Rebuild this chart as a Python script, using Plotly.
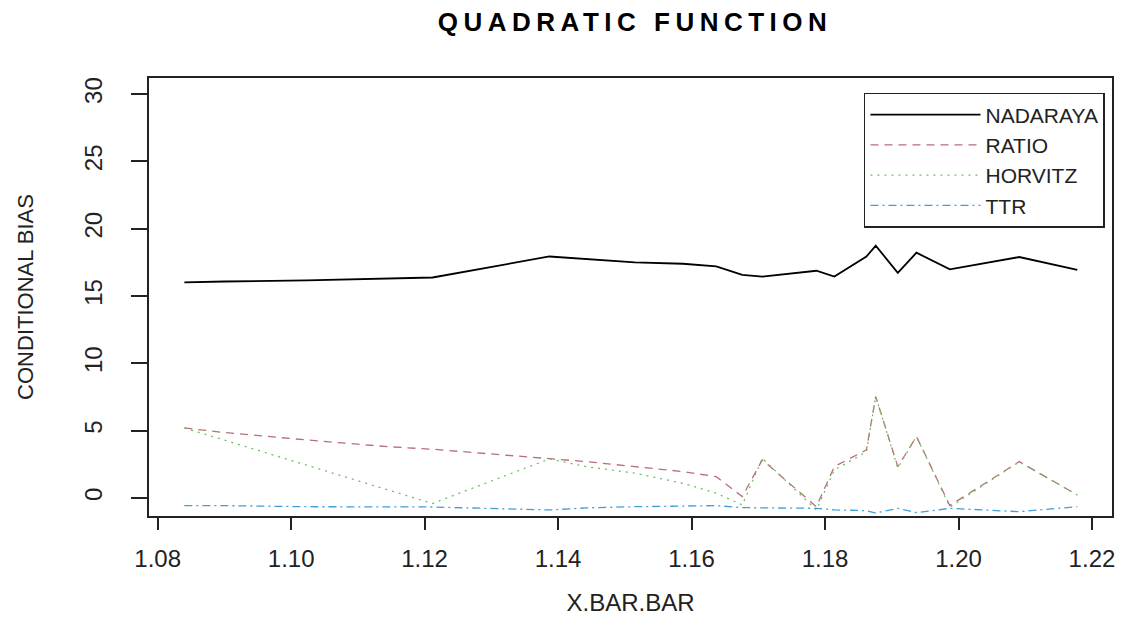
import plotly.graph_objects as go

x_bar = [1.0840, 1.0900, 1.1023, 1.1145, 1.1212, 1.1387, 1.1442, 1.1515, 1.1587, 1.1637,
         1.1676, 1.1706, 1.1787, 1.1814, 1.1862, 1.1876, 1.1909, 1.1937, 1.1987, 1.2091, 1.2178]

nadaraya = [16.01, 16.08, 16.16, 16.31, 16.38, 17.94, 17.75, 17.50, 17.40, 17.20,
            16.58, 16.45, 16.88, 16.45, 17.94, 18.74, 16.73, 18.22, 16.99, 17.90, 16.95]
ratio = [5.20, 4.86, 4.31, 3.81, 3.62, 2.90, 2.70, 2.33, 1.96, 1.58,
         0.10, 2.83, -0.65, 2.33, 3.57, 7.53, 2.33, 4.56, -0.56, 2.70, 0.22]
horvitz = [5.20, None, None, None, -0.41, 2.90, 2.33, 1.84, 1.09, 0.35,
           -0.52, 2.95, -0.89, 2.08, 3.42, 7.53, 2.23, 4.56, -0.67, 2.68, 0.22]
ttr = [-0.57, -0.57, -0.65, -0.65, -0.67, -0.89, -0.74, -0.65, -0.59, -0.57,
       -0.72, -0.72, -0.77, -0.89, -0.94, -1.12, -0.77, -1.09, -0.77, -1.02, -0.65]

series_names = ["NADARAYA", "RATIO", "HORVITZ", "TTR"]
x_ticks = [1.08, 1.10, 1.12, 1.14, 1.16, 1.18, 1.20, 1.22]
y_ticks = [0, 5, 10, 15, 20, 25, 30]

styles = [
    dict(color="#000000", width=1.8, dash="solid"),
    dict(color="#b86e78", width=1.3, dash="8px,6px"),
    dict(color="#6cc060", width=1.3, dash="2px,5px"),
    dict(color="#3f9fd8", width=1.3, dash="8px,4px,2px,4px"),
]

fig = go.Figure()
for name, ys, st in zip(series_names, [nadaraya, ratio, horvitz, ttr], styles):
    fig.add_trace(go.Scatter(x=x_bar, y=ys, mode="lines", name=name,
                             line=st, connectgaps=True))

font_family = "Liberation Sans, Arial, sans-serif"

fig.update_layout(
    width=1129, height=627,
    margin=dict(l=149, r=17, t=78, b=111),
    paper_bgcolor="white", plot_bgcolor="white",
    font=dict(family=font_family, color="#222222", size=24),
    title=dict(text='<b><span style="letter-spacing:5.5px">QUADRATIC FUNCTION</span></b>',
               x=0.5625, xanchor="center", y=0.965, yanchor="middle",
               font=dict(family=font_family, size=26, color="#000000")),
    showlegend=True,
    legend=dict(x=0.9927, xanchor="right", y=0.966, yanchor="top",
                bgcolor="white", bordercolor="#222222", borderwidth=1.5,
                font=dict(family=font_family, size=21, color="#222222"),
                tracegroupgap=0, itemwidth=110),
    xaxis=dict(range=[1.0787, 1.2230], tickvals=x_ticks, tickformat=".2f",
               showgrid=False, zeroline=False, showline=True, linecolor="#222222",
               linewidth=1.5, mirror=True, ticks="outside", ticklen=12, tickwidth=1.5,
               tickcolor="#222222", ticklabelstandoff=8,
               tickfont=dict(size=24),
               title=dict(text="X.BAR.BAR", font=dict(size=24), standoff=24)),
    yaxis=dict(range=[-1.34, 31.2], tickvals=y_ticks, tickangle=-90,
               showgrid=False, zeroline=False, showline=True, linecolor="#222222",
               linewidth=1.5, mirror=True, ticks="outside", ticklen=16, tickwidth=1.5,
               tickcolor="#222222", ticklabelstandoff=20,
               tickfont=dict(size=24),
               title=dict(text="CONDITIONAL BIAS", font=dict(size=22), standoff=40)),
)

fig.write_html("out.html")
